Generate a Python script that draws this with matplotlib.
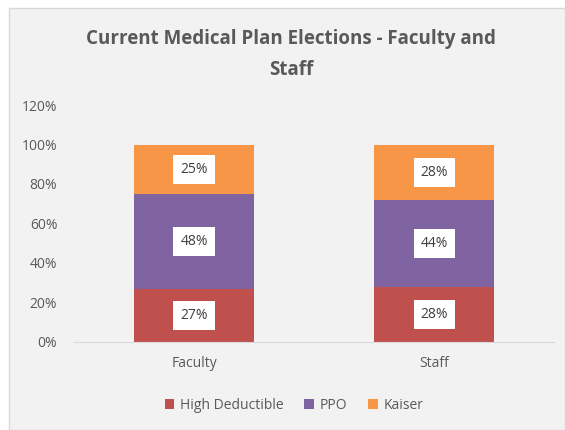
import matplotlib.pyplot as plt
from matplotlib.patches import Rectangle

groups = ['Faculty', 'Staff']
series = ['High Deductible', 'PPO', 'Kaiser']
high_deductible = [27, 28]
ppo = [48, 44]
kaiser = [25, 28]
colors = ['#C0504D', '#8064A2', '#F79646']

plt.rcParams['font.family'] = ['Open Sans', 'DejaVu Sans']

fig = plt.figure(figsize=(5.65, 4.3), dpi=100, facecolor='white')
# gray chart panel
fig.patches.append(Rectangle((9/565, 0), 1 - 9/565, 1 - 8/430, transform=fig.transFigure,
                             facecolor='#F2F2F2', edgecolor='#D9D9D9', lw=1, zorder=-10))

ax = fig.add_axes([0.131, 0.2047, 0.85, 0.5511])
ax.set_facecolor('none')
ax.set_zorder(5)

bottom = [0, 0]
for name, vals, c in zip(series, [high_deductible, ppo, kaiser], colors):
    fr = [v / 100 for v in vals]
    bars = ax.bar(groups, fr, 0.5, bottom=bottom, color=c, label=name, zorder=2)
    for b, v, btm in zip(bars, fr, bottom):
        ax.text(b.get_x() + b.get_width() / 2, btm + v / 2, f'{round(v*100)}%',
                ha='center', va='center', fontsize=10, color='#404040', zorder=3,
                bbox=dict(facecolor='white', edgecolor='none', pad=5))
    bottom = [b + v for b, v in zip(bottom, fr)]

ax.set_xlim(-0.5, 1.5)
ax.set_ylim(0, 1.2)
ax.set_yticks([i * 0.2 for i in range(7)])
ax.set_yticklabels([f'{i*20}%' for i in range(7)])
for s in ['top', 'right', 'left']:
    ax.spines[s].set_visible(False)
ax.spines['bottom'].set_color('#D9D9D9')
ax.tick_params(axis='both', length=0, colors='#595959', labelsize=10)
ax.tick_params(axis='y', pad=12)
ax.tick_params(axis='x', pad=10)

fig.text(0.515, 0.874, 'Current Medical Plan Elections - Faculty and\nStaff', ha='center', va='center',
         fontsize=13.5, fontweight='bold', color='#595959', linespacing=1.75)

fig.legend(loc='center', bbox_to_anchor=(0.52, 0.058), ncol=3, frameon=False, fontsize=10,
           handlelength=0.7, handleheight=0.7, handletextpad=0.4, columnspacing=1.5,
           labelcolor='#595959')

fig.savefig('out.png', dpi=100)
